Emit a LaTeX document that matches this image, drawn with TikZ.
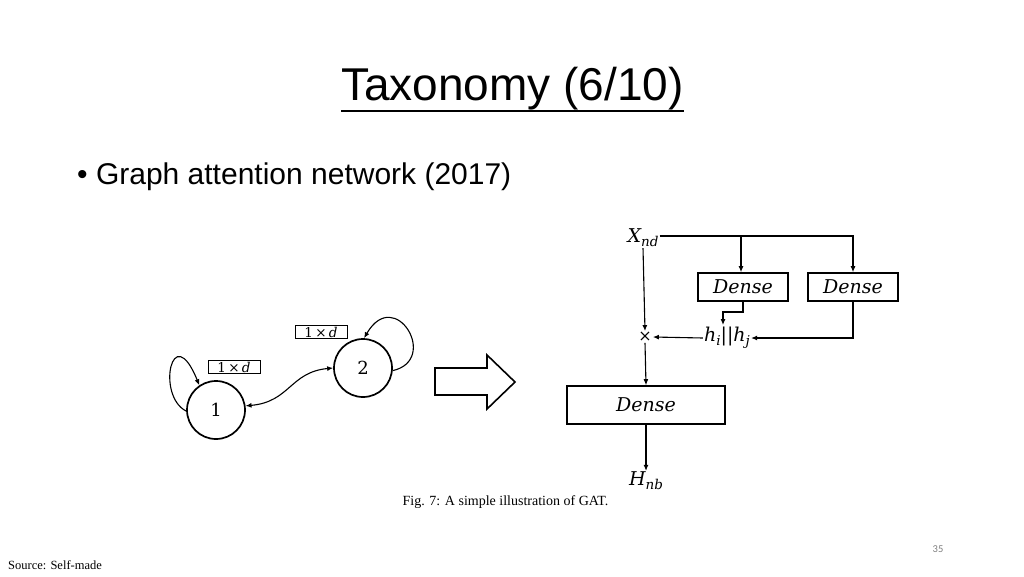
\documentclass[tikz,border=0pt]{standalone}
\usepackage{fontspec}
\setmainfont{Liberation Sans}
\newfontfamily\serifcap{Liberation Serif}
\newfontfamily\pagenum{Carlito}
\newfontfamily\mfont{DejaVu Serif}
\newcommand\msub[1]{\raisebox{-0.2em}{\mfont\itshape\fontsize{13.5}{13.5}\selectfont #1}}
\usetikzlibrary{arrows.meta}
\begin{document}
\begin{tikzpicture}[x=1pt,y=-1pt,
  fs/.style={font=\fontsize{#1}{#1}\selectfont},
  circ/.style={circle,draw,line width=1.7pt,minimum size=58pt,inner sep=0pt,font=\mfont\fontsize{18}{18}\selectfont},
  dimbox/.style={draw,line width=0.7pt,minimum width=52pt,minimum height=13pt,inner sep=0pt,font=\mfont\fontsize{13.5}{13.5}\selectfont},
  densebox/.style={draw,line width=1.6pt,inner sep=0pt,font=\mfont\itshape\fontsize{19}{19}\selectfont},
  lbl/.style={inner sep=1pt,font=\mfont\itshape\fontsize{19}{19}\selectfont},
  arr/.style={line width=1.1pt,-{Latex[length=6pt,width=5pt]}},
  darr/.style={line width=1.1pt,{Latex[length=6pt,width=5pt]}-{Latex[length=6pt,width=5pt]}},
  ln/.style={line width=1.1pt}]
\useasboundingbox[fill=white] (0,0) rectangle (1024,576);

% title
\node[anchor=base,inner sep=0pt,fs=46] (title) at (512.5,100) {Taxonomy (6/10)};
\draw[line width=1.6pt] (title.base west)++(0,11) coordinate (ul1) -- (title.base east |- ul1);
\node[anchor=base west,inner sep=0pt,fs=30] (bullet) at (77,184) {\textbullet\ Graph attention network (2017)};

% left graph
\node[circ] (n1) at (216,410) {1};
\node[circ] (n2) at (363,368) {2};
\node[dimbox] (l1) at (234,367) {1\,×\,\textit{d}};
\node[dimbox] (l2) at (321,332) {1\,×\,\textit{d}};
\draw[arr] (n1.182) .. controls (156,396) and (172,318) .. (n1.124);
\draw[arr] (n2.-5) .. controls (440,360) and (395,285) .. (n2.88);
\draw[darr] (n1.8) .. controls (290,402) and (290,372) .. (n2.180);

% block arrow
\draw[line width=1.6pt,fill=white] (435,368) -- (487,368) -- (487,355) -- (515,382) -- (487,409) -- (487,395) -- (435,395) -- cycle;

% right diagram
\node[lbl] (x) at (643,238) {X\msub{nd}};
\node[densebox,minimum width=90pt,minimum height=28pt] (d1) at (743,287) {Dense};
\node[densebox,minimum width=90pt,minimum height=28pt] (d2) at (853,287) {Dense};
\node[lbl] (h) at (727,338) {h\msub{i}||h\msub{j}};
\node[lbl,font=\mfont\fontsize{16}{16}\selectfont] (t) at (645,337) {×};
\node[densebox,minimum width=158pt,minimum height=38pt] (d3) at (646,405) {Dense};
\node[lbl] (H) at (646,481) {H\msub{nb}};
\coordinate (br) at (741,236);
\draw[ln] (x.east |- br) -- (br);
\draw[arr] (br) -| (d2.north);
\draw[arr] (br) -- (br |- d1.north);
\coordinate (k1) at (743,312);
\coordinate (k2) at (723,312);
\draw[arr] (d1.south) -- (k1) -- (k2) -- (723,325);
\draw[arr] (d2.south) |- (h.east);
\draw[arr] (h.west) -- (t.east);
\draw[arr] (x.south) -- (t.north);
\draw[arr] (t.south) -- (d3.north);
\draw[arr] (d3.south) -- (H.north);

% captions
\node[inner sep=0pt,font=\serifcap\fontsize{14}{15}\selectfont] (cap) at (505.5,502) {Fig. 7: A simple illustration of GAT.};
\node[anchor=west,inner sep=0pt,font=\serifcap\fontsize{12.5}{13}\selectfont] (src) at (8,565) {Source: Self-made};
\node[inner sep=0pt,text=gray,font=\pagenum\fontsize{10.5}{12}\selectfont] (pg) at (938,549) {35};
\end{tikzpicture}
\end{document}
